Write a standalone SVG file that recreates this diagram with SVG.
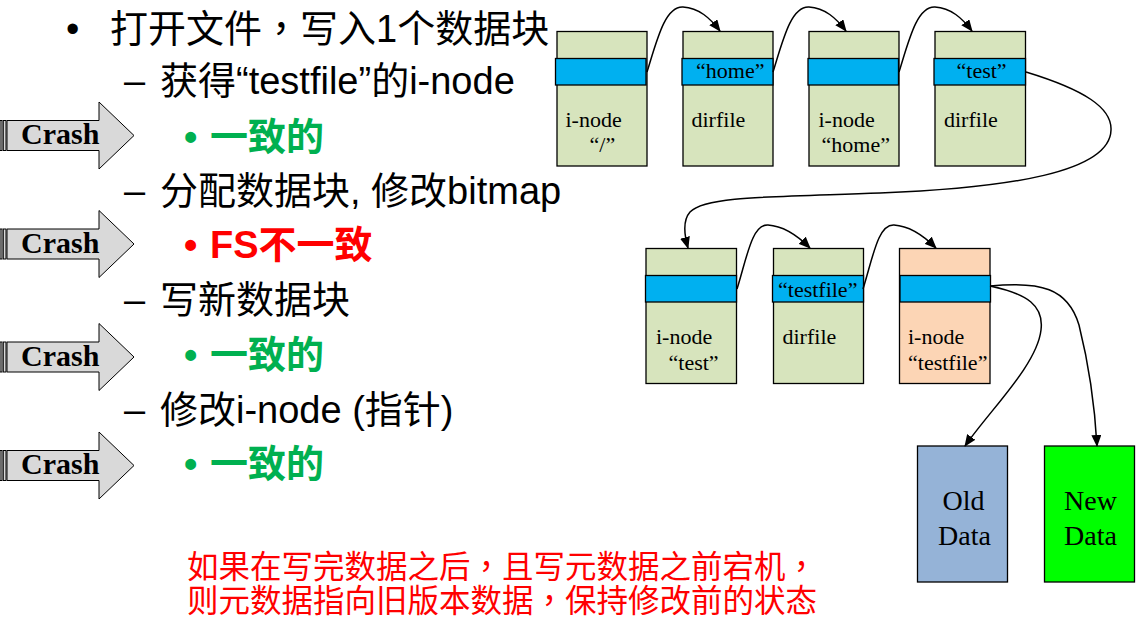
<svg xmlns="http://www.w3.org/2000/svg" width="1142" height="630" viewBox="0 0 1142 630">
<style>
.t{font-family:"Liberation Sans","Noto Sans CJK SC",sans-serif;font-size:38px;fill:#000}
.g{font-family:"Liberation Sans","Noto Sans CJK SC",sans-serif;font-size:38px;font-weight:bold;fill:#00B050}
.r{font-family:"Liberation Sans","Noto Sans CJK SC",sans-serif;font-size:38px;font-weight:bold;fill:#FF0000}
.note{font-family:"Noto Sans CJK SC",sans-serif;font-size:31.5px;fill:#FF0000}
.cm{font-family:"Noto Sans CJK TC",sans-serif}
.cr{font-family:"Liberation Serif",serif;font-size:30px;font-weight:bold;fill:#000}
.ca{fill:#D9D9D9;stroke:#000;stroke-width:1}
.box{fill:#D7E4BD;stroke:#000;stroke-width:1.3}
.pk{fill:#FCD5B5;stroke:#000;stroke-width:1.3}
.band{fill:#00B0F0;stroke:#000;stroke-width:1.3}
.bt{font-family:"Liberation Serif",serif;font-size:22px;fill:#000}
.dt{font-family:"Liberation Serif",serif;font-size:28px;fill:#000;text-anchor:middle}
.cn{fill:none;stroke:#000;stroke-width:1.5;marker-end:url(#ah)}
</style>
<defs>
<marker id="ah" markerWidth="12" markerHeight="10" refX="11" refY="5" orient="auto" markerUnits="userSpaceOnUse">
<path d="M0,0 L12,5 L0,10 Z" fill="#000"/>
</marker>
</defs>
<rect width="1142" height="630" fill="#fff"/>

<g id="text-list">
<text class="t" x="66" y="42">•</text>
<text class="t" x="110" y="42">打开文件<tspan class="cm">，</tspan>写入1个数据块</text>
<text class="t" x="124" y="94">–</text>
<text class="t" x="160" y="94">获得“testfile”的i-node</text>
<text class="g" x="184" y="150">•</text>
<text class="g" x="210" y="150">一致的</text>
<text class="t" x="124" y="204">–</text>
<text class="t" x="160" y="204">分配数据块, 修改bitmap</text>
<text class="r" x="184" y="258">•</text>
<text class="r" x="210" y="258">FS不一致</text>
<text class="t" x="124" y="313">–</text>
<text class="t" x="160" y="313">写新数据块</text>
<text class="g" x="184" y="368">•</text>
<text class="g" x="210" y="368">一致的</text>
<text class="t" x="124" y="423">–</text>
<text class="t" x="160" y="423">修改i-node (指针)</text>
<text class="g" x="184" y="477">•</text>
<text class="g" x="210" y="477">一致的</text>
</g>

<g id="crash1">
<rect class="ca" x="0" y="120.5" width="2" height="30"/>
<rect class="ca" x="3.3" y="120.5" width="2.7" height="30"/>
<polygon class="ca" points="7,120.5 99,120.5 99,102 134,135.5 99,169 99,150.5 7,150.5"/>
<text class="cr" x="21" y="144">Crash</text>
</g>
<g id="crash2">
<rect class="ca" x="0" y="229" width="2" height="30"/>
<rect class="ca" x="3.3" y="229" width="2.7" height="30"/>
<polygon class="ca" points="7,229 99,229 99,210.5 134,244 99,277.5 99,259 7,259"/>
<text class="cr" x="21" y="252.5">Crash</text>
</g>
<g id="crash3">
<rect class="ca" x="0" y="342" width="2" height="30"/>
<rect class="ca" x="3.3" y="342" width="2.7" height="30"/>
<polygon class="ca" points="7,342 99,342 99,323.5 134,357 99,390.5 99,372 7,372"/>
<text class="cr" x="21" y="365.5">Crash</text>
</g>
<g id="crash4">
<rect class="ca" x="0" y="450.5" width="2" height="30"/>
<rect class="ca" x="3.3" y="450.5" width="2.7" height="30"/>
<polygon class="ca" points="7,450.5 99,450.5 99,432 134,465.5 99,499 99,480.5 7,480.5"/>
<text class="cr" x="21" y="474">Crash</text>
</g>

<g id="n-root">
<rect class="box" x="557" y="31.5" width="90" height="134.5"/>
<rect class="band" x="555.5" y="58.5" width="90.5" height="26.5"/>
<text class="bt" x="565.5" y="127">i-node</text>
<text class="bt" x="589.5" y="152">“/”</text>
</g>
<g id="n-rootdir">
<rect class="box" x="683" y="31.5" width="90" height="134.5"/>
<rect class="band" x="682" y="58.5" width="91" height="26.5"/>
<text class="bt" x="696" y="77.5">“home”</text>
<text class="bt" x="691.5" y="127">dirfile</text>
</g>
<g id="n-home">
<rect class="box" x="809" y="31.5" width="90" height="134.5"/>
<rect class="band" x="808" y="58.5" width="90.5" height="26.5"/>
<text class="bt" x="818.5" y="127">i-node</text>
<text class="bt" x="821.5" y="152">“home”</text>
</g>
<g id="n-homedir">
<rect class="box" x="935" y="31.5" width="90.5" height="134.5"/>
<rect class="band" x="934" y="58.5" width="91.5" height="26.5"/>
<text class="bt" x="956.5" y="77.5">“test”</text>
<text class="bt" x="944" y="127">dirfile</text>
</g>
<g id="n-test">
<rect class="box" x="646" y="248.5" width="90.5" height="135"/>
<rect class="band" x="645.5" y="275.5" width="91" height="26.5"/>
<text class="bt" x="656" y="343.5">i-node</text>
<text class="bt" x="668.5" y="370">“test”</text>
</g>
<g id="n-testdir">
<rect class="box" x="773.5" y="248.5" width="90" height="135"/>
<rect class="band" x="772.5" y="275.5" width="91" height="26.5"/>
<text class="bt" x="778" y="296.5">“testfile”</text>
<text class="bt" x="782.5" y="343.5">dirfile</text>
</g>
<g id="n-testfile">
<rect class="pk" x="899.5" y="248.5" width="90.5" height="135"/>
<rect class="band" x="900" y="275.5" width="90.5" height="26.5"/>
<text class="bt" x="908" y="343.5">i-node</text>
<text class="bt" x="908" y="370">“testfile”</text>
</g>
<g id="n-old">
<rect x="917.5" y="446" width="90" height="136" fill="#95B3D7" stroke="#000" stroke-width="1.3"/>
<text class="dt" x="963.5" y="510">Old</text>
<text class="dt" x="964.5" y="545">Data</text>
</g>
<g id="n-new">
<rect x="1044.5" y="446" width="90" height="136" fill="#00FF00" stroke="#000" stroke-width="1.3"/>
<text class="dt" x="1090.5" y="510">New</text>
<text class="dt" x="1090.5" y="545">Data</text>
</g>

<g id="connectors">
<path class="cn" d="M647,72 C657,40 665,6 683,7 C699,8 710,18 720,31"/>
<path class="cn" d="M773,72 C783,40 791,6 809,7 C825,8 836,18 846,31"/>
<path class="cn" d="M899,72 C909,40 917,6 935,7 C951,8 962,18 972,31"/>
<path class="cn" d="M1026,72 C1085,90 1112,108 1111,130 C1110,172 1010,188 880,193 C770,197 705,196 690,212 C683,220 684,234 688,248"/>
<path class="cn" d="M737,289 C747,257 752,224 768,225 C784,226 797,235 810,248"/>
<path class="cn" d="M863,289 C873,257 878,224 894,225 C910,226 923,235 936,248"/>
<path class="cn" d="M990,286 C1028,294 1044,306 1041,330 C1037,365 990,410 965,446"/>
<path class="cn" d="M990,286 C1040,281 1068,288 1079,325 C1089,365 1095,410 1097,446"/>
</g>

<g id="note">
<text class="note" x="187" y="578">如果在写完数据之后<tspan class="cm">，</tspan>且写元数据之前宕机<tspan class="cm">，</tspan></text>
<text class="note" x="187" y="612">则元数据指向旧版本数据<tspan class="cm">，</tspan>保持修改前的状态</text>
</g>
</svg>
